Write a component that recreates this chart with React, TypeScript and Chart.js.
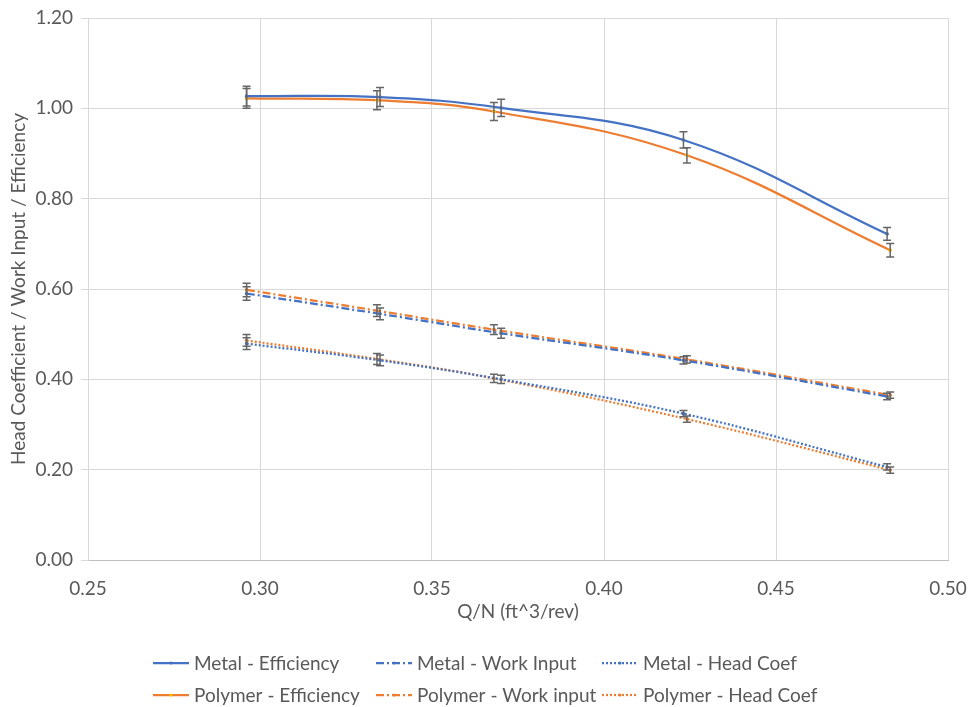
import { useEffect, useRef } from "react";
import { Chart, registerables } from "chart.js";

Chart.register(...registerables);

// ---- Data ----
const metalX = [0.2961, 0.3349, 0.3701, 0.4231, 0.4823];
const polymerX = [0.2961, 0.334, 0.368, 0.4241, 0.4832];

const metalEff = [1.027, 1.025, 1.001, 0.93, 0.722];
const polymerEff = [1.022, 1.018, 0.993, 0.896, 0.686];
const metalWork = [0.59, 0.545, 0.502, 0.442, 0.362];
const polymerWork = [0.598, 0.552, 0.51, 0.444, 0.365];
const metalHead = [0.479, 0.442, 0.4, 0.324, 0.206];
const polymerHead = [0.486, 0.445, 0.402, 0.312, 0.199];

const metalEffErr = [0.022, 0.021, 0.019, 0.018, 0.014];
const polymerEffErr = [0.022, 0.021, 0.02, 0.017, 0.015];
const metalWorkErr = [0.015, 0.013, 0.011, 0.008, 0.007];
const polymerWorkErr = [0.015, 0.013, 0.011, 0.008, 0.007];
const metalHeadErr = [0.013, 0.012, 0.009, 0.007, 0.007];
const polymerHeadErr = [0.013, 0.012, 0.009, 0.007, 0.007];

const seriesLabels = [
  "Metal - Efficiency",
  "Metal - Work Input",
  "Metal - Head Coef",
  "Polymer - Efficiency",
  "Polymer - Work input",
  "Polymer - Head Coef",
];

const xTicks = [0.25, 0.3, 0.35, 0.4, 0.45, 0.5];
const yTicks = [0, 0.2, 0.4, 0.6, 0.8, 1.0, 1.2];

const BLUE = "#4472C4";
const ORANGE = "#ED7D31";
const TEXT = "#595959";
const FONT = "Lato, 'Open Sans', sans-serif";
const FS = 19;

const DASH_DOT = [8, 3, 2, 3];
const DOT = [2, 2];

function pts(xs: number[], ys: number[]) {
  return xs.map((x, i) => ({ x, y: ys[i] }));
}

const errorBarPlugin = {
  id: "errorBars",
  afterDatasetsDraw(chart: any) {
    const ctx = chart.ctx;
    const xs = chart.scales.x;
    const ys = chart.scales.y;
    ctx.save();
    ctx.strokeStyle = "#666666";
    ctx.lineWidth = 1.5;
    ctx.setLineDash([]);
    chart.data.datasets.forEach((ds: any) => {
      ds.data.forEach((p: any, i: number) => {
        const e = ds.errors[i];
        const px = xs.getPixelForValue(p.x);
        const top = ys.getPixelForValue(p.y + e);
        const bot = ys.getPixelForValue(p.y - e);
        ctx.beginPath();
        ctx.moveTo(px, top);
        ctx.lineTo(px, bot);
        ctx.moveTo(px - 4, top);
        ctx.lineTo(px + 4, top);
        ctx.moveTo(px - 4, bot);
        ctx.lineTo(px + 4, bot);
        ctx.stroke();
      });
    });
    ctx.restore();
  },
};

const legendPlugin = {
  id: "gridLegend",
  afterDraw(chart: any) {
    const ctx = chart.ctx;
    const colX = [153, 376, 602];
    const rowY = [663, 695];
    const sample = 36;
    ctx.save();
    ctx.font = `${FS}px ${FONT}`;
    ctx.textBaseline = "middle";
    ctx.textAlign = "left";
    chart.data.datasets.forEach((ds: any, i: number) => {
      const x = colX[i % 3];
      const y = rowY[Math.floor(i / 3)];
      ctx.strokeStyle = ds.borderColor;
      ctx.lineWidth = ds.borderWidth;
      ctx.setLineDash(ds.borderDash || []);
      ctx.beginPath();
      ctx.moveTo(x, y);
      ctx.lineTo(x + sample, y);
      ctx.stroke();
      ctx.setLineDash([]);
      ctx.fillStyle = ds.pointBackgroundColor;
      ctx.beginPath();
      ctx.arc(x + sample / 2, y, 1.5, 0, Math.PI * 2);
      ctx.fill();
      ctx.fillStyle = TEXT;
      ctx.fillText(ds.label, x + sample + 5, y + 1);
    });
    ctx.restore();
  },
};

export default function App() {
  const canvasRef = useRef<HTMLCanvasElement | null>(null);

  useEffect(() => {
    document.body.style.margin = "0";
    const canvas = canvasRef.current;
    if (!canvas) return;

    const mk = (
      label: string,
      xs: number[],
      ys: number[],
      errs: number[],
      color: string,
      dash: number[],
      marker: string
    ) => ({
      label,
      data: pts(xs, ys),
      errors: errs,
      showLine: true,
      borderColor: color,
      backgroundColor: color,
      borderWidth: 2.25,
      borderDash: dash,
      borderCapStyle: "butt",
      tension: 0.4,
      pointRadius: 1.8,
      pointBorderWidth: 0,
      pointBackgroundColor: marker,
      pointHoverRadius: 0,
    });

    const chart = new Chart(canvas, {
      type: "scatter",
      data: {
        datasets: [
          mk(seriesLabels[0], metalX, metalEff, metalEffErr, BLUE, [], BLUE),
          mk(seriesLabels[1], metalX, metalWork, metalWorkErr, BLUE, DASH_DOT, BLUE),
          mk(seriesLabels[2], metalX, metalHead, metalHeadErr, BLUE, DOT, BLUE),
          mk(seriesLabels[3], polymerX, polymerEff, polymerEffErr, ORANGE, [], "#FFC000"),
          mk(seriesLabels[4], polymerX, polymerWork, polymerWorkErr, ORANGE, DASH_DOT, ORANGE),
          mk(seriesLabels[5], polymerX, polymerHead, polymerHeadErr, ORANGE, DOT, ORANGE),
        ] as any,
      },
      options: {
        animation: false,
        responsive: true,
        maintainAspectRatio: false,
        layout: { padding: { left: 0, right: 21, top: 18, bottom: 77 } },
        plugins: {
          legend: { display: false },
          tooltip: { enabled: false },
        },
        scales: {
          x: {
            type: "linear",
            min: xTicks[0],
            max: xTicks[xTicks.length - 1],
            afterBuildTicks: (scale: any) => {
              scale.ticks = xTicks.map((v) => ({ value: v }));
            },
            afterFit: (scale: any) => {
              scale.height = 70;
              scale.paddingLeft = 0;
              scale.paddingRight = 0;
            },
            ticks: {
              color: TEXT,
              font: { family: FONT, size: FS },
              padding: 17,
              maxRotation: 0,
              callback: (v: any) => Number(v).toFixed(2),
            },
            grid: { color: "#D9D9D9", lineWidth: 1, drawTicks: false },
            border: { color: "#BFBFBF", width: 1 },
            title: {
              display: true,
              text: "Q/N (ft^3/rev)",
              color: TEXT,
              font: { family: FONT, size: FS },
              padding: { top: 0, bottom: 7 },
            },
          },
          y: {
            type: "linear",
            min: yTicks[0],
            max: yTicks[yTicks.length - 1],
            afterBuildTicks: (scale: any) => {
              scale.ticks = yTicks.map((v) => ({ value: v }));
            },
            afterFit: (scale: any) => {
              scale.width = 88;
              scale.paddingTop = 0;
              scale.paddingBottom = 0;
            },
            ticks: {
              color: TEXT,
              font: { family: FONT, size: FS },
              padding: 8,
              callback: (v: any) => Number(v).toFixed(2),
            },
            grid: { color: "#D9D9D9", lineWidth: 1, tickLength: 7 },
            border: { color: "#D9D9D9", width: 1 },
            title: {
              display: true,
              text: "Head Coefficient / Work Input / Efficiency",
              color: TEXT,
              font: { family: FONT, size: FS },
              padding: { top: 7, bottom: 0 },
            },
          },
        },
      } as any,
      plugins: [errorBarPlugin, legendPlugin],
    });

    return () => chart.destroy();
  }, []);

  return (
    <div style={{ position: "relative", width: 969, height: 707 }}>
      <canvas ref={canvasRef} />
    </div>
  );
}
